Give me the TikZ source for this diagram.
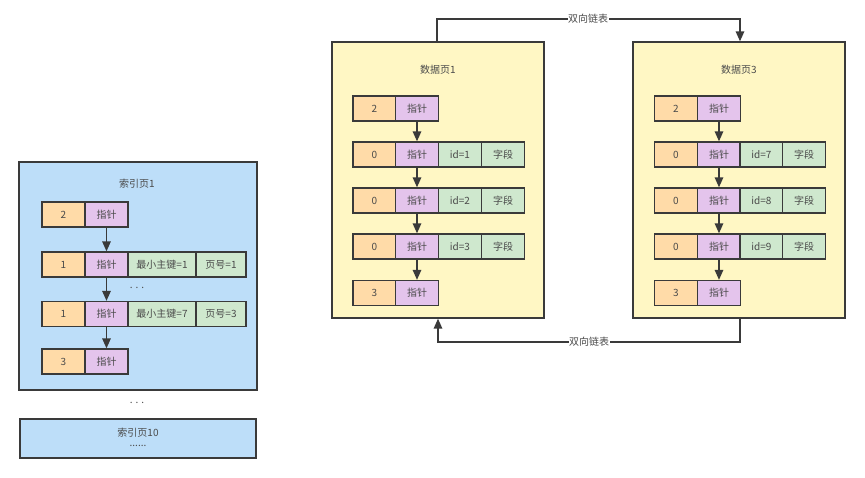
\documentclass[tikz,border=0pt]{standalone}
\usepackage{fontspec}
\setmainfont{Noto Sans CJK SC}
\usetikzlibrary{arrows.meta}
\definecolor{cblue}{HTML}{BDDEF9}
\definecolor{corange}{HTML}{FFDBA8}
\definecolor{cpurple}{HTML}{E4C4EC}
\definecolor{cgreen}{HTML}{CFE8CE}
\definecolor{cyellow}{HTML}{FFF7C4}
\definecolor{cline}{HTML}{3A3A3A}
\definecolor{ctext}{HTML}{4A4A4A}
\tikzset{
  txt/.style={font=\fontsize{10}{12}\selectfont, text=ctext, inner sep=0pt},
  cell/.style={txt, draw=cline, line width=1.3pt, minimum height=25pt, minimum width=43pt, anchor=center},
  oc/.style={cell, fill=corange},
  pc/.style={cell, fill=cpurple},
  gc/.style={cell, fill=cgreen},
  page/.style={txt, draw=cline, line width=1.3pt, anchor=center},
  link/.style={draw=cline, line width=1.4pt, -{Triangle[width=8.5pt,length=10pt]}},
  lbl/.style={txt, fill=white, inner sep=0.5pt},
}
\begin{document}
\begin{tikzpicture}[x=1pt,y=-1pt]
\useasboundingbox (0,0) rectangle (865,478);
% ---------- index page 1 ----------
\node[page, fill=cblue, minimum width=238pt, minimum height=228pt] (ip1) at (138,276) {};
\node[txt] (ip1t) at (137,184) {索引页1};
\node[oc] (i1a) at (63.5,214.5) {2};
\node[pc] (i1b) at (106.5,214.5) {指针};
\node[oc] (i2a) at (63.5,264.5) {1};
\node[pc] (i2b) at (106.5,264.5) {指针};
\node[gc, minimum width=68pt] (i2c) at (162,264.5) {最小主键=1};
\node[gc, minimum width=50pt] (i2d) at (221,264.5) {页号=1};
\node[txt] (idots) at (137,288) {. . .};
\node[oc] (i3a) at (63.5,314) {1};
\node[pc] (i3b) at (106.5,314) {指针};
\node[gc, minimum width=68pt] (i3c) at (162,314) {最小主键=7};
\node[gc, minimum width=50pt] (i3d) at (221,314) {页号=3};
\node[oc] (i4a) at (63.5,361.5) {3};
\node[pc] (i4b) at (106.5,361.5) {指针};
\draw[link] (i1b) -- (i2b);
\draw[link] (i2b) -- (i3b);
\draw[link] (i3b) -- (i4b);
\node[txt] (mdots) at (137,403) {. . .};
% ---------- index page 10 ----------
\node[page, fill=cblue, minimum width=236pt, minimum height=39pt] (ip10) at (138,438.5) {};
\node[txt] (ip10t) at (138,433) {索引页10};
\node[txt] (ip10d) at (138,446) {......};
% ---------- data page 1 ----------
\node[page, fill=cyellow, minimum width=212pt, minimum height=276pt] (dp1) at (438,180) {};
\node[txt] (dp1t) at (438,70) {数据页1};
\node[oc] (a1a) at (374.5,108.5) {2};
\node[pc] (a1b) at (417,108.5) {指针};
\node[oc] (a2a) at (374.5,154.5) {0};
\node[pc] (a2b) at (417,154.5) {指针};
\node[gc] (a2c) at (460,154.5) {id=1};
\node[gc] (a2d) at (503,154.5) {字段};
\node[oc] (a3a) at (374.5,200.5) {0};
\node[pc] (a3b) at (417,200.5) {指针};
\node[gc] (a3c) at (460,200.5) {id=2};
\node[gc] (a3d) at (503,200.5) {字段};
\node[oc] (a4a) at (374.5,246.5) {0};
\node[pc] (a4b) at (417,246.5) {指针};
\node[gc] (a4c) at (460,246.5) {id=3};
\node[gc] (a4d) at (503,246.5) {字段};
\node[oc] (a5a) at (374.5,293) {3};
\node[pc] (a5b) at (417,293) {指针};
\draw[link] (a1b) -- (a2b);
\draw[link] (a2b) -- (a3b);
\draw[link] (a3b) -- (a4b);
\draw[link] (a4b) -- (a5b);
% ---------- data page 3 ----------
\node[page, fill=cyellow, minimum width=212pt, minimum height=276pt] (dp3) at (739,180) {};
\node[txt] (dp3t) at (739,70) {数据页3};
\node[oc] (b1a) at (676,108.5) {2};
\node[pc] (b1b) at (719,108.5) {指针};
\node[oc] (b2a) at (676,154.5) {0};
\node[pc] (b2b) at (719,154.5) {指针};
\node[gc] (b2c) at (761.5,154.5) {id=7};
\node[gc] (b2d) at (804,154.5) {字段};
\node[oc] (b3a) at (676,200.5) {0};
\node[pc] (b3b) at (719,200.5) {指针};
\node[gc] (b3c) at (761.5,200.5) {id=8};
\node[gc] (b3d) at (804,200.5) {字段};
\node[oc] (b4a) at (676,246.5) {0};
\node[pc] (b4b) at (719,246.5) {指针};
\node[gc] (b4c) at (761.5,246.5) {id=9};
\node[gc] (b4d) at (804,246.5) {字段};
\node[oc] (b5a) at (676,293) {3};
\node[pc] (b5b) at (719,293) {指针};
\draw[link] (b1b) -- (b2b);
\draw[link] (b2b) -- (b3b);
\draw[link] (b3b) -- (b4b);
\draw[link] (b4b) -- (b5b);
% ---------- doubly linked list ----------
\coordinate (top) at (588,19);
\coordinate (bot) at (589,342);
\draw[link] ([xshift=-1pt]dp1.north) |- (top) -| ([xshift=1pt]dp3.north);
\node[lbl] (toplbl) at (top) {双向链表};
\draw[link] ([xshift=1pt]dp3.south) |- (bot) -| (dp1.south);
\node[lbl] (botlbl) at (bot) {双向链表};
\end{tikzpicture}
\end{document}
